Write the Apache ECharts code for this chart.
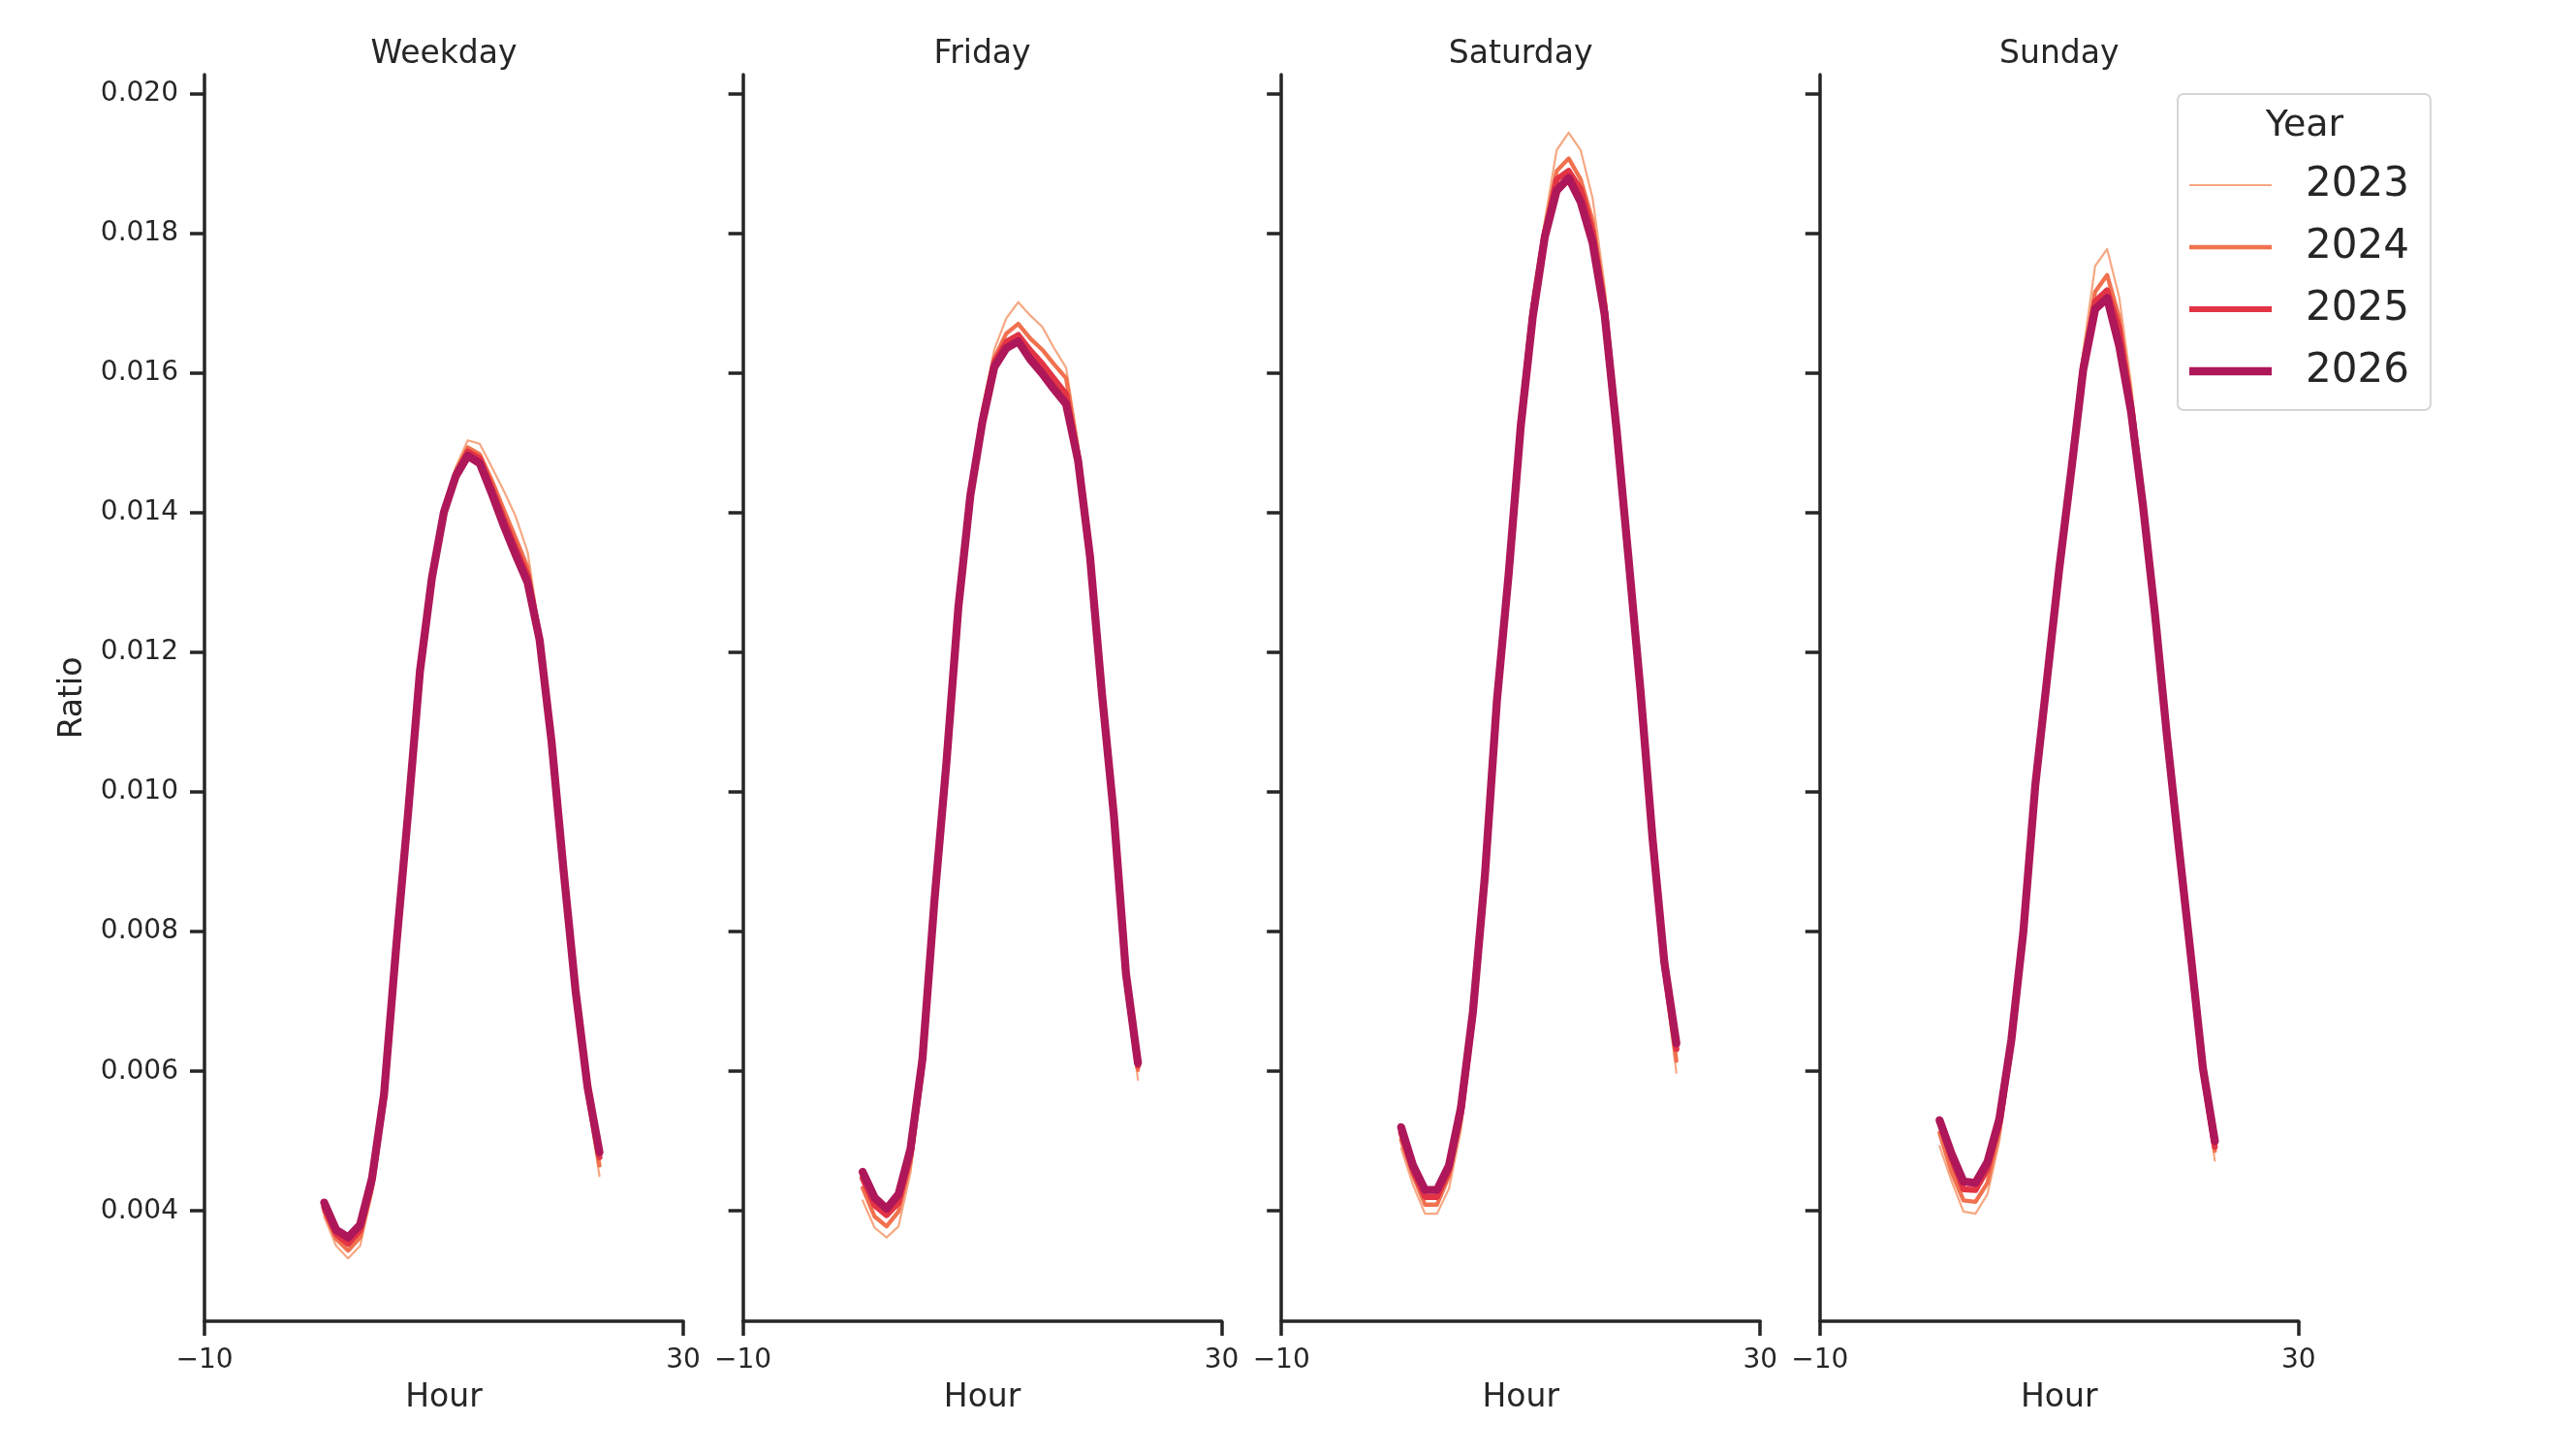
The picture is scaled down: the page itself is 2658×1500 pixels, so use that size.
<!DOCTYPE html>
<html>
<head>
<meta charset="utf-8">
<script src="https://cdn.jsdelivr.net/npm/echarts@6/dist/echarts.min.js"></script>
<style>
  html, body { margin: 0; padding: 0; background: #fff; }
  #chart { width: 2658px; height: 1500px; }
</style>
</head>
<body>
<div id="chart"></div>
<script>
// hour of day, 0..23
const hours = [0, 1, 2, 3, 4, 5, 6, 7, 8, 9, 10, 11, 12, 13, 14, 15, 16, 17, 18, 19, 20, 21, 22, 23];
const years = ['2023', '2024', '2025', '2026'];
const panels = ['Weekday', 'Friday', 'Saturday', 'Sunday'];
const yTicks = [0.004, 0.006, 0.008, 0.010, 0.012, 0.014, 0.016, 0.018, 0.020];
const xTicks = [-10, 30];

// ratio per hour
const weekday2023 = [0.00392, 0.00350, 0.00332, 0.00350, 0.00425, 0.00553, 0.00768, 0.00964, 0.01173, 0.01310, 0.01408, 0.01466, 0.01504, 0.01499, 0.01466, 0.01432, 0.01395, 0.01344, 0.01230, 0.01072, 0.00880, 0.00702, 0.00560, 0.00450];
const weekday2024 = [0.00399, 0.00360, 0.00343, 0.00362, 0.00433, 0.00558, 0.00770, 0.00965, 0.01172, 0.01308, 0.01404, 0.01460, 0.01494, 0.01484, 0.01447, 0.01405, 0.01364, 0.01322, 0.01224, 0.01073, 0.00884, 0.00708, 0.00567, 0.00465];
const weekday2025 = [0.00405, 0.00367, 0.00353, 0.00372, 0.00440, 0.00562, 0.00772, 0.00966, 0.01172, 0.01307, 0.01402, 0.01456, 0.01488, 0.01478, 0.01436, 0.01392, 0.01350, 0.01310, 0.01220, 0.01074, 0.00887, 0.00713, 0.00574, 0.00477];
const weekday2026 = [0.00412, 0.00373, 0.00362, 0.00380, 0.00447, 0.00567, 0.00775, 0.00968, 0.01173, 0.01307, 0.01401, 0.01453, 0.01482, 0.01471, 0.01428, 0.01382, 0.01340, 0.01300, 0.01218, 0.01072, 0.00888, 0.00716, 0.00578, 0.00484];

const friday2023 = [0.00415, 0.00376, 0.00362, 0.00378, 0.00455, 0.00596, 0.00836, 0.01040, 0.01272, 0.01440, 0.01552, 0.01634, 0.01679, 0.01702, 0.01683, 0.01667, 0.01636, 0.01608, 0.01500, 0.01344, 0.01134, 0.00952, 0.00722, 0.00588];
const friday2024 = [0.00433, 0.00392, 0.00378, 0.00399, 0.00470, 0.00605, 0.00840, 0.01040, 0.01268, 0.01432, 0.01540, 0.01622, 0.01657, 0.01671, 0.01650, 0.01634, 0.01613, 0.01593, 0.01488, 0.01340, 0.01136, 0.00958, 0.00730, 0.00602];
const friday2025 = [0.00447, 0.00408, 0.00394, 0.00412, 0.00480, 0.00612, 0.00842, 0.01040, 0.01266, 0.01428, 0.01535, 0.01616, 0.01645, 0.01655, 0.01633, 0.01614, 0.01592, 0.01570, 0.01480, 0.01338, 0.01138, 0.00962, 0.00735, 0.00608];
const friday2026 = [0.00456, 0.00419, 0.00403, 0.00424, 0.00489, 0.00618, 0.00845, 0.01042, 0.01265, 0.01425, 0.01530, 0.01609, 0.01636, 0.01646, 0.01620, 0.01600, 0.01577, 0.01556, 0.01475, 0.01337, 0.01140, 0.00965, 0.00740, 0.00612];

const saturday2023 = [0.00490, 0.00437, 0.00396, 0.00396, 0.00432, 0.00516, 0.00668, 0.00872, 0.01135, 0.01330, 0.01548, 0.01712, 0.01818, 0.01920, 0.01945, 0.01920, 0.01851, 0.01725, 0.01540, 0.01342, 0.01136, 0.00918, 0.00732, 0.00598];
const saturday2024 = [0.00502, 0.00451, 0.00409, 0.00409, 0.00450, 0.00530, 0.00676, 0.00876, 0.01132, 0.01322, 0.01536, 0.01698, 0.01806, 0.01890, 0.01908, 0.01878, 0.01819, 0.01708, 0.01530, 0.01338, 0.01140, 0.00925, 0.00742, 0.00615];
const saturday2025 = [0.00512, 0.00458, 0.00420, 0.00420, 0.00458, 0.00540, 0.00680, 0.00878, 0.01130, 0.01318, 0.01530, 0.01690, 0.01800, 0.01878, 0.01890, 0.01864, 0.01803, 0.01695, 0.01524, 0.01336, 0.01144, 0.00930, 0.00750, 0.00632];
const saturday2026 = [0.00520, 0.00465, 0.00430, 0.00430, 0.00465, 0.00548, 0.00685, 0.00880, 0.01130, 0.01315, 0.01525, 0.01681, 0.01795, 0.01862, 0.01880, 0.01846, 0.01787, 0.01685, 0.01520, 0.01335, 0.01146, 0.00935, 0.00755, 0.00640];

const sunday2023 = [0.00493, 0.00443, 0.00399, 0.00396, 0.00424, 0.00500, 0.00628, 0.00792, 0.01010, 0.01172, 0.01332, 0.01478, 0.01632, 0.01754, 0.01778, 0.01710, 0.01585, 0.01425, 0.01260, 0.01080, 0.00912, 0.00752, 0.00588, 0.00472];
const sunday2024 = [0.00512, 0.00456, 0.00415, 0.00413, 0.00440, 0.00515, 0.00635, 0.00796, 0.01010, 0.01168, 0.01325, 0.01468, 0.01620, 0.01717, 0.01741, 0.01680, 0.01565, 0.01418, 0.01258, 0.01080, 0.00915, 0.00758, 0.00595, 0.00486];
const sunday2025 = [0.00528, 0.00475, 0.00431, 0.00430, 0.00460, 0.00525, 0.00640, 0.00798, 0.01010, 0.01166, 0.01322, 0.01464, 0.01612, 0.01703, 0.01719, 0.01665, 0.01555, 0.01413, 0.01256, 0.01080, 0.00918, 0.00762, 0.00600, 0.00492];
const sunday2026 = [0.00530, 0.00482, 0.00442, 0.00440, 0.00470, 0.00532, 0.00645, 0.00800, 0.01010, 0.01165, 0.01320, 0.01460, 0.01605, 0.01692, 0.01708, 0.01640, 0.01545, 0.01410, 0.01255, 0.01080, 0.00920, 0.00765, 0.00605, 0.00500];

const panelData = [
  [weekday2023, weekday2024, weekday2025, weekday2026],
  [friday2023, friday2024, friday2025, friday2026],
  [saturday2023, saturday2024, saturday2025, saturday2026],
  [sunday2023, sunday2024, sunday2025, sunday2026]
];

const colors = ['#f6a883', '#f1714f', '#e23445', '#ae1759'];
const widths = [2.2, 4.3, 6.2, 8.3];
const ink = '#262626';
const font = 'DejaVu Sans';

// layout of the four facets
const gridLeft = 211, gridStep = 555.6, gridWidth = 494;
const gridTop = 77, gridHeight = 1286;

let grids = [], xAxes = [], yAxes = [], series = [], texts = [];

panels.forEach((p, i) => {
  const left = gridLeft + i * gridStep;
  grids.push({ left: left, top: gridTop, width: gridWidth, height: gridHeight, containLabel: false });

  xAxes.push({
    type: 'value', gridIndex: i, min: -10, max: 30,
    name: 'Hour', nameLocation: 'middle', nameGap: 63,
    nameTextStyle: { fontSize: 33, color: ink, fontFamily: font },
    axisLine: { show: true, onZero: false, lineStyle: { color: ink, width: 3.5 } },
    axisTick: { show: true, length: 15, customValues: xTicks, lineStyle: { color: ink, width: 3.5 } },
    axisLabel: {
      show: true, customValues: xTicks, margin: 27, fontSize: 28, color: ink, fontFamily: font,
      showMinLabel: true, showMaxLabel: true,
      formatter: v => String(v).replace('-', '\u2212')
    },
    splitLine: { show: false }
  });

  yAxes.push({
    type: 'value', gridIndex: i, min: 0.00242, max: 0.02028,
    name: i === 0 ? 'Ratio' : '', nameLocation: 'middle', nameGap: 119, nameRotate: 90,
    nameTextStyle: { fontSize: 33, color: ink, fontFamily: font },
    axisLine: { show: true, onZero: false, lineStyle: { color: ink, width: 3.5 } },
    axisTick: { show: true, length: 15, customValues: yTicks, lineStyle: { color: ink, width: 3.5 } },
    axisLabel: {
      show: i === 0, customValues: yTicks, margin: 27, fontSize: 28, color: ink, fontFamily: font,
      formatter: v => v.toFixed(3)
    },
    splitLine: { show: false }
  });

  years.forEach((y, k) => {
    const vals = panelData[i][k];
    series.push({
      type: 'line', name: y, xAxisIndex: i, yAxisIndex: i,
      data: hours.map((h, n) => [h, vals[n]]),
      showSymbol: false, symbol: 'none', silent: true, z: 2 + k,
      color: colors[k],
      lineStyle: { color: colors[k], width: widths[k], cap: 'round', join: 'round' },
      itemStyle: { color: colors[k] }
    });
  });

  texts.push({
    type: 'text', x: left + gridWidth / 2, y: 56,
    style: { text: p, fill: ink, font: '33px "' + font + '"', align: 'center', verticalAlign: 'middle' }
  });
});

// legend title
texts.push({
  type: 'text', x: 2378, y: 130, z: 100,
  style: { text: 'Year', fill: ink, font: '38px "' + font + '"', align: 'center', verticalAlign: 'middle' }
});

const chart = echarts.init(document.getElementById('chart'));
chart.setOption({
  animation: false,
  backgroundColor: '#fff',
  textStyle: { fontFamily: font },
  grid: grids,
  xAxis: xAxes,
  yAxis: yAxes,
  series: series,
  legend: {
    orient: 'vertical', left: 2247, top: 97,
    padding: [73, 22, 19, 12],
    itemWidth: 85, itemHeight: 20, itemGap: 22,
    backgroundColor: '#fff', borderColor: '#d6d6d6', borderWidth: 2, borderRadius: 6,
    itemStyle: { borderWidth: 0 },
    textStyle: { fontSize: 42, lineHeight: 41, color: ink, fontFamily: font, padding: [0, 0, 0, 30] },
    data: years.map((y, k) => ({ name: y, icon: 'path://M0 0H85V' + widths[k] + 'H0Z' }))
  },
  graphic: texts
});
window.onresize = () => chart.resize();
</script>
</body>
</html>
